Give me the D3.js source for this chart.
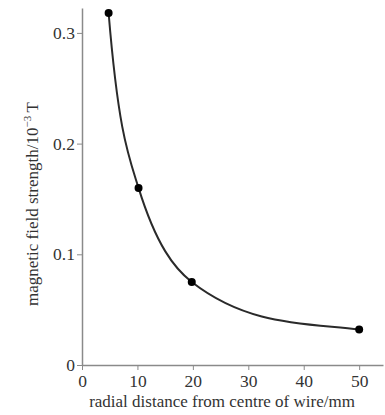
<!DOCTYPE html>
<html>
<head>
<meta charset="utf-8">
<script src="https://d3js.org/d3.v7.min.js"></script>
<style>
  body { margin: 0; background: #fff; }
  svg text { font-family: "Liberation Serif", "Times New Roman", serif; fill: #333; }
</style>
</head>
<body>
<script>
// readings
var distance = [4.8, 10.2, 19.8, 50];          // mm
var fieldStrength = [0.318, 0.160, 0.075, 0.032]; // 10^-3 T
var xTicks = [0, 10, 20, 30, 40, 50];
var yTicks = [0, 0.1, 0.2, 0.3];

var w = 385, h = 415;
var margin = {top: 8, right: 2, bottom: 50, left: 82};
var width = w - margin.left - margin.right,
    height = h - margin.top - margin.bottom;

var x = d3.scaleLinear().domain([0, 54.3]).range([0, width]);
var y = d3.scaleLinear().domain([0, 0.3225]).range([height, 0]);

var svg = d3.select("body").append("svg")
    .attr("width", w).attr("height", h)
  .append("g")
    .attr("transform", "translate(" + margin.left + "," + margin.top + ")");

var xAxis = svg.append("g")
    .attr("transform", "translate(0," + height + ")")
    .call(d3.axisBottom(x).tickValues(xTicks).tickFormat(d3.format("d")).tickSize(5).tickSizeOuter(0));

var yAxis = svg.append("g")
    .call(d3.axisLeft(y).tickValues(yTicks).tickFormat(function(d) { return d === 0 ? "0" : d3.format(".1f")(d); }).tickSize(5).tickSizeOuter(0));

[xAxis, yAxis].forEach(function(a) {
  a.select(".domain").attr("stroke", "#8a8a8a").attr("stroke-width", 1.5);
  a.selectAll(".tick line").attr("stroke", "#8a8a8a").attr("stroke-width", 1);
  a.selectAll(".tick text").attr("font-size", 17.5).attr("font-family", "Liberation Serif, serif").attr("fill", "#333");
});
xAxis.selectAll(".tick text").attr("dy", "0.8em");
yAxis.selectAll(".tick text").attr("dx", "0.05em");

var pts = distance.map(function(d, i) { return [d, fieldStrength[i]]; });

// smooth curve through the points: cubic hermite, tangents from the local
// power-law exponent between neighbouring readings (B ~ r^-k)
var seg = [];
for (var i = 0; i < pts.length - 1; i++) {
  seg.push(Math.log(pts[i][1] / pts[i + 1][1]) / Math.log(pts[i + 1][0] / pts[i][0]));
}
var slope = pts.map(function(p, i) {
  var k = i === 0 ? seg[0] : i === pts.length - 1 ? seg[seg.length - 1] : (seg[i - 1] + seg[i]) / 2;
  return -k * p[1] / p[0];
});

var path = d3.path();
path.moveTo(x(pts[0][0]), y(pts[0][1]));
for (var j = 0; j < pts.length - 1; j++) {
  var hStep = (pts[j + 1][0] - pts[j][0]) / 3;
  path.bezierCurveTo(
    x(pts[j][0] + hStep), y(pts[j][1] + hStep * slope[j]),
    x(pts[j + 1][0] - hStep), y(pts[j + 1][1] - hStep * slope[j + 1]),
    x(pts[j + 1][0]), y(pts[j + 1][1]));
}

svg.append("path")
    .attr("fill", "none")
    .attr("stroke", "#2a2a2a")
    .attr("stroke-width", 2)
    .attr("d", path.toString());

svg.selectAll(".pt")
    .data(pts)
  .enter().append("circle")
    .attr("class", "pt")
    .attr("cx", function(d) { return x(d[0]); })
    .attr("cy", function(d) { return y(d[1]); })
    .attr("r", 4)
    .attr("fill", "#000");

svg.append("text")
    .attr("x", 140)
    .attr("y", height + 42)
    .attr("text-anchor", "middle")
    .attr("font-size", 17)
    .text("radial distance from centre of wire/mm");

var yl = svg.append("text")
    .attr("transform", "translate(-44," + (196) + ") rotate(-90)")
    .attr("text-anchor", "middle")
    .attr("font-size", 17);
yl.append("tspan").text("magnetic field strength/10");
yl.append("tspan").attr("font-size", 11).attr("dy", "-0.6em").text("\u22123");
yl.append("tspan").attr("dy", "0.4em").text("\u2009T");
</script>
</body>
</html>
